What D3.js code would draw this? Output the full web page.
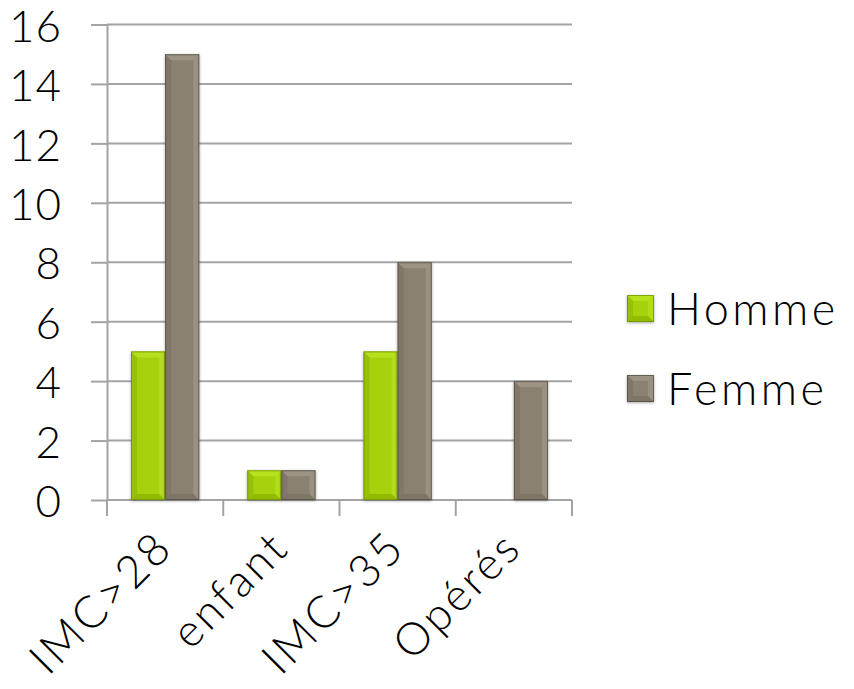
<!DOCTYPE html>
<html>
<head>
<meta charset="utf-8">
<script src="https://cdn.jsdelivr.net/npm/d3@7"></script>
<style>
  html, body { margin: 0; padding: 0; background: #fff; }
  svg text { font-family: "Lato", "DejaVu Sans", sans-serif; font-weight: 300; fill: #000; }
</style>
</head>
<body>
<svg id="chart" width="854" height="689"></svg>
<script>
// Patient counts per group, split by sex
const categories = ["IMC>28", "enfant", "IMC>35", "Opérés"];
const seriesNames = ["Homme", "Femme"];
const homme = [5, 1, 5, 0];
const femme = [15, 1, 8, 4];
const yTicks = [0, 2, 4, 6, 8, 10, 12, 14, 16];

const series = [
  { name: seriesNames[0], values: homme, base: "#a5d20c", light: "#c4ec2e", dark: "#7da000", darker: "#6b8a00" },
  { name: seriesNames[1], values: femme, base: "#8a8172", light: "#aba394", dark: "#6c6456", darker: "#4e483e" }
];

const svg = d3.select("#chart");
const plot = { left: 107, right: 572, top: 24.5, bottom: 500 };
const fontSize = 45;

const x = d3.scaleBand().domain(categories).range([plot.left, plot.right]).paddingInner(0).paddingOuter(0);
const inner = d3.scaleBand().domain(seriesNames).range([24, x.bandwidth() - 24]).padding(0);
const y = d3.scaleLinear().domain([0, 16]).range([plot.bottom, plot.top]);

const defs = svg.append("defs");
const shadow = defs.append("filter").attr("id", "shadow").attr("x", "-20%").attr("y", "-20%").attr("width", "140%").attr("height", "140%");
shadow.append("feGaussianBlur").attr("in", "SourceAlpha").attr("stdDeviation", 1.5);
shadow.append("feOffset").attr("dx", 0).attr("dy", 1).attr("result", "b");
shadow.append("feComponentTransfer").append("feFuncA").attr("type", "linear").attr("slope", 0.35);
const merge = shadow.append("feMerge");
merge.append("feMergeNode");
merge.append("feMergeNode").attr("in", "SourceGraphic");

// Horizontal gridlines
svg.append("g").selectAll("line").data(yTicks.filter(d => d > 0)).join("line")
  .attr("x1", plot.left).attr("x2", plot.right)
  .attr("y1", d => y(d)).attr("y2", d => y(d))
  .attr("stroke", "#a3a3a3").attr("stroke-width", 2);

// Y axis
const yAxis = svg.append("g").attr("transform", `translate(${plot.left},0)`)
  .call(d3.axisLeft(y).tickValues(yTicks).tickSize(16).tickPadding(29).tickSizeOuter(0));
yAxis.select(".domain").attr("stroke", "#a3a3a3").attr("stroke-width", 2);
yAxis.selectAll(".tick line").attr("stroke", "#a3a3a3").attr("stroke-width", 2);
yAxis.selectAll(".tick text").attr("font-size", 44).attr("dy", "0.38em")
  .attr("letter-spacing", 1)
  .style("font-family", "Lato, sans-serif").style("font-weight", 300);

// X axis with boundary ticks between categories
svg.append("line").attr("x1", plot.left).attr("x2", plot.right)
  .attr("y1", plot.bottom).attr("y2", plot.bottom)
  .attr("stroke", "#a3a3a3").attr("stroke-width", 2);
const bounds = categories.map(c => x(c)).concat([x(categories[categories.length - 1]) + x.bandwidth()]);
svg.append("g").selectAll("line").data(bounds).join("line")
  .attr("x1", d => d).attr("x2", d => d)
  .attr("y1", plot.bottom).attr("y2", plot.bottom + 16)
  .attr("stroke", "#a3a3a3").attr("stroke-width", 2);

// Beveled bar drawing
function bevelBar(g, x0, y0, w, h, s) {
  const b = Math.min(6, w / 4, h / 2.5);
  const x1 = x0 + w, y1 = y0 + h;
  const grp = g.append("g").attr("filter", "url(#shadow)");
  grp.append("rect").attr("x", x0).attr("y", y0).attr("width", w).attr("height", h).attr("fill", s.base);
  // top bevel
  grp.append("polygon").attr("points", [[x0, y0], [x1, y0], [x1 - b, y0 + b], [x0 + b, y0 + b]].join(" "))
    .attr("fill", s.light).attr("opacity", 0.55);
  // left bevel
  grp.append("polygon").attr("points", [[x0, y0], [x0 + b, y0 + b], [x0 + b, y1 - b], [x0, y1]].join(" "))
    .attr("fill", s.dark).attr("opacity", 0.35);
  // right bevel
  grp.append("polygon").attr("points", [[x1, y0], [x1, y1], [x1 - b, y1 - b], [x1 - b, y0 + b]].join(" "))
    .attr("fill", s.light).attr("opacity", 0.45);
  // bottom bevel
  grp.append("polygon").attr("points", [[x0, y1], [x0 + b, y1 - b], [x1 - b, y1 - b], [x1, y1]].join(" "))
    .attr("fill", s.dark).attr("opacity", 0.45);
  // outline
  grp.append("rect").attr("x", x0 + 0.5).attr("y", y0 + 0.5).attr("width", w - 1).attr("height", h - 1)
    .attr("fill", "none").attr("stroke", s.darker).attr("stroke-width", 1).attr("opacity", 0.7);
}

const barsG = svg.append("g");
series.forEach(s => {
  s.values.forEach((v, i) => {
    if (v <= 0) return;
    const bx = x(categories[i]) + inner(s.name);
    bevelBar(barsG, bx, y(v), inner.bandwidth(), y(0) - y(v), s);
  });
});

// Rotated category labels
svg.append("g").selectAll("text").data(categories).join("text")
  .attr("text-anchor", "end")
  .attr("font-size", fontSize)
  .attr("letter-spacing", 3)
  .attr("transform", d => `translate(${x(d) + x.bandwidth() / 2 + 10},${plot.bottom + 50}) rotate(-45)`)
  .text(d => d);

// Legend
const legend = svg.append("g");
series.forEach((s, i) => {
  const ly = 309 + i * 80;
  bevelBar(legend, 627, ly - 14, 27, 27, s);
  legend.append("text").attr("x", 667).attr("y", ly).attr("dy", "0.36em")
    .attr("font-size", fontSize).attr("letter-spacing", 3.5).text(s.name);
});
</script>
</body>
</html>
